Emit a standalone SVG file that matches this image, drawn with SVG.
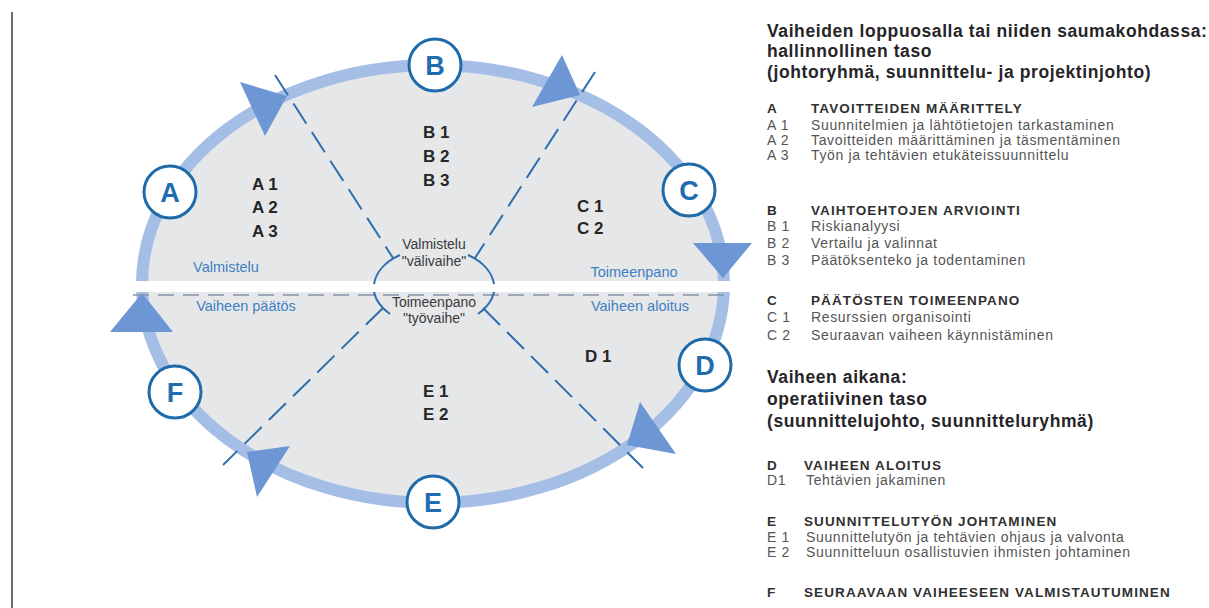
<svg xmlns="http://www.w3.org/2000/svg" width="1209" height="608" viewBox="0 0 1209 608">
<defs>
<style>
.ring{fill:#e6e7e9;stroke:#a5bee6;stroke-width:12}
.arrow{fill:#6d96d4;stroke:none}
.dash{stroke:#2f6fae;stroke-width:2;stroke-dasharray:24 10;fill:none}
.hdash{stroke:#8494ab;stroke-width:1.6;stroke-dasharray:16 9;fill:none}
.arc{stroke:#2f6fae;stroke-width:2;fill:none}
.node circle{fill:#fff;stroke:#1f6aa8;stroke-width:3}
.node text{font-family:"Liberation Sans",Arial,sans-serif;font-weight:bold;font-size:27px;fill:#1f6db0;text-anchor:middle}
.inner{font-family:"Liberation Sans",Arial,sans-serif;font-weight:bold;font-size:17px;fill:#262626}
.blue{font-family:"Liberation Sans",Arial,sans-serif;font-size:14.5px;fill:#3f80c2;text-anchor:middle}
.mid{font-family:"Liberation Sans",Arial,sans-serif;font-size:14px;fill:#3a3a3a;text-anchor:middle}
.title{font-family:"Liberation Sans",Arial,sans-serif;font-weight:bold;font-size:17.5px;letter-spacing:0.6px;fill:#262428}
.head{font-family:"Liberation Sans",Arial,sans-serif;font-weight:bold;font-size:13.5px;letter-spacing:1.1px;fill:#303030}
.item{font-family:"Liberation Sans",Arial,sans-serif;font-size:14px;letter-spacing:0.65px;fill:#555}
</style>
</defs>
<rect width="1209" height="608" fill="#fff"/>
<line x1="12" y1="12" x2="12" y2="608" stroke="#6b6b6b" stroke-width="2"/>

<g id="cycle">
<ellipse class="ring" cx="433" cy="284" rx="291" ry="219"/>
<rect x="133" y="281" width="599" height="11" fill="#fff"/>
<polygon class="arrow" points="240,82 287,96 265,136"/>
<polygon class="arrow" points="562,55 580,95 532,107"/>
<polygon class="arrow" points="693,243 752,243 723,278"/>
<polygon class="arrow" points="640,402 676,454 627,445"/>
<polygon class="arrow" points="247,452 290,446 257,497"/>
<polygon class="arrow" points="110,332 173,332 142,293"/>
</g>

<g id="connectors">
<line class="hdash" x1="133" y1="295" x2="731" y2="295"/>
<line class="dash" x1="275" y1="75" x2="393" y2="258"/>
<line class="dash" x1="595" y1="72" x2="475" y2="258"/>
<line class="dash" x1="383" y1="308" x2="223" y2="465"/>
<line class="dash" x1="483" y1="308" x2="643" y2="468"/>
<path class="arc" d="M400,255 A60,40 0 0 0 374,284"/>
<path class="arc" d="M468,255 A60,40 0 0 1 494,284"/>
<path class="arc" d="M374,292 A60,40 0 0 0 390,314"/>
<path class="arc" d="M494,292 A60,40 0 0 1 478,314"/>
</g>

<g id="node-A" class="node"><circle cx="170" cy="192" r="26"/><text x="170" y="202">A</text></g>
<g id="node-B" class="node"><circle cx="435" cy="65" r="26"/><text x="435" y="75">B</text></g>
<g id="node-C" class="node"><circle cx="689" cy="190" r="26"/><text x="689" y="200">C</text></g>
<g id="node-D" class="node"><circle cx="705" cy="365" r="26"/><text x="705" y="375">D</text></g>
<g id="node-E" class="node"><circle cx="433" cy="502" r="26"/><text x="433" y="512">E</text></g>
<g id="node-F" class="node"><circle cx="175" cy="392" r="26"/><text x="175" y="402">F</text></g>

<g id="labels">
<text class="inner" x="252" y="190">A 1</text>
<text class="inner" x="252" y="213">A 2</text>
<text class="inner" x="252" y="237">A 3</text>
<text class="inner" x="423" y="138">B 1</text>
<text class="inner" x="423" y="162">B 2</text>
<text class="inner" x="423" y="186">B 3</text>
<text class="inner" x="577" y="212">C 1</text>
<text class="inner" x="577" y="234">C 2</text>
<text class="inner" x="585" y="362">D 1</text>
<text class="inner" x="423" y="397">E 1</text>
<text class="inner" x="423" y="420">E 2</text>
<text class="blue" x="226" y="272">Valmistelu</text>
<text class="blue" x="246" y="311">Vaiheen päätös</text>
<text class="blue" x="634" y="277">Toimeenpano</text>
<text class="blue" x="640" y="311">Vaiheen aloitus</text>
<text class="mid" x="434" y="249">Valmistelu</text>
<text class="mid" x="434" y="266">"välivaihe"</text>
<text class="mid" x="434" y="307">Toimeenpano</text>
<text class="mid" x="434" y="323">"työvaihe"</text>
</g>

<g id="legend">
<text class="title" x="767" y="37">Vaiheiden loppuosalla tai niiden saumakohdassa:</text>
<text class="title" x="767" y="57">hallinnollinen taso</text>
<text class="title" x="767" y="78">(johtoryhmä, suunnittelu- ja projektinjohto)</text>
<text class="head" x="767" y="113">A</text><text class="head" x="811" y="113">TAVOITTEIDEN MÄÄRITTELY</text>
<text class="item" x="767" y="130">A 1</text><text class="item" x="811" y="130">Suunnitelmien ja lähtötietojen tarkastaminen</text>
<text class="item" x="767" y="145">A 2</text><text class="item" x="811" y="145">Tavoitteiden määrittäminen ja täsmentäminen</text>
<text class="item" x="767" y="160">A 3</text><text class="item" x="811" y="160">Työn ja tehtävien etukäteissuunnittelu</text>
<text class="head" x="767" y="215">B</text><text class="head" x="811" y="215">VAIHTOEHTOJEN ARVIOINTI</text>
<text class="item" x="767" y="231">B 1</text><text class="item" x="811" y="231">Riskianalyysi</text>
<text class="item" x="767" y="248">B 2</text><text class="item" x="811" y="248">Vertailu ja valinnat</text>
<text class="item" x="767" y="265">B 3</text><text class="item" x="811" y="265">Päätöksenteko ja todentaminen</text>
<text class="head" x="767" y="305">C</text><text class="head" x="811" y="305">PÄÄTÖSTEN TOIMEENPANO</text>
<text class="item" x="767" y="322">C 1</text><text class="item" x="811" y="322">Resurssien organisointi</text>
<text class="item" x="767" y="340">C 2</text><text class="item" x="811" y="340">Seuraavan vaiheen käynnistäminen</text>
<text class="title" x="767" y="383">Vaiheen aikana:</text>
<text class="title" x="767" y="405">operatiivinen taso</text>
<text class="title" x="767" y="427">(suunnittelujohto, suunnitteluryhmä)</text>
<text class="head" x="767" y="470">D</text><text class="head" x="804" y="470">VAIHEEN ALOITUS</text>
<text class="item" x="767" y="485">D1</text><text class="item" x="806" y="485">Tehtävien jakaminen</text>
<text class="head" x="767" y="526">E</text><text class="head" x="804" y="526">SUUNNITTELUTYÖN JOHTAMINEN</text>
<text class="item" x="767" y="542">E 1</text><text class="item" x="806" y="542">Suunnittelutyön ja tehtävien ohjaus ja valvonta</text>
<text class="item" x="767" y="557">E 2</text><text class="item" x="806" y="557">Suunnitteluun osallistuvien ihmisten johtaminen</text>
<text class="head" x="767" y="597">F</text><text class="head" x="804" y="597">SEURAAVAAN VAIHEESEEN VALMISTAUTUMINEN</text>
</g>
</svg>
